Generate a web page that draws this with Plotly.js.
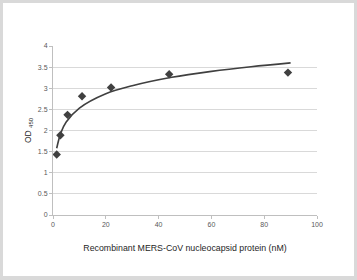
<!DOCTYPE html>
<html><head><meta charset="utf-8">
<script src="https://cdn.plot.ly/plotly-3.0.1.min.js"></script>
<style>
html,body{margin:0;padding:0;background:#fff;}
#wrap{position:relative;width:357px;height:280px;}
#chart{position:absolute;left:0;top:0;width:357px;height:280px;}
#frame{position:absolute;left:0;top:0;width:357px;height:280px;box-sizing:border-box;border:3px solid #d9d9d9;border-bottom-width:4px;pointer-events:none;}
</style></head>
<body><div id="wrap"><div id="chart"></div><div id="frame"></div></div>
<script>
// measured points
const concentration = [1.4, 2.8, 5.5, 11, 22, 44, 89];
const od450 = [1.43, 1.89, 2.37, 2.81, 3.02, 3.33, 3.37];
// trend line
const trendX = [1.4, 3, 5, 10, 20, 30, 45, 60, 75, 90];
const trendY = [1.58, 1.95, 2.20, 2.53, 2.87, 3.06, 3.26, 3.40, 3.51, 3.60];
const xTicks = [0, 20, 40, 60, 80, 100];
const yTicks = [0, 0.5, 1, 1.5, 2, 2.5, 3, 3.5, 4];

const traces = [
  {x: trendX, y: trendY, type: 'scatter', mode: 'lines', line: {color: '#404040', width: 1.6, shape: 'spline'}, hoverinfo: 'skip'},
  {x: concentration, y: od450, type: 'scatter', mode: 'markers', marker: {symbol: 'diamond', size: 6.5, color: '#404040'}}
];
const font = {family: 'Liberation Sans, Arial, sans-serif', size: 8, color: '#404040'};
const layout = {
  width: 357, height: 280,
  margin: {l: 53, r: 40, t: 46, b: 65},
  paper_bgcolor: '#fff', plot_bgcolor: '#fff',
  showlegend: false,
  font: font,
  xaxis: {
    range: [0, 100], tickvals: xTicks, ticktext: xTicks.map(String),
    showgrid: false, zeroline: false, showline: true, linecolor: '#bfbfbf', linewidth: 1,
    ticks: 'outside', ticklen: 3, tickcolor: '#bfbfbf',
    tickfont: {family: font.family, size: 7, color: '#595959'},
    title: {text: 'Recombinant MERS-CoV nucleocapsid protein (nM)', font: {family: font.family, size: 8.8, color: '#262626'}, standoff: 17}
  },
  yaxis: {
    range: [0, 4], tickvals: yTicks, ticktext: yTicks.map(String),
    showgrid: true, gridcolor: '#d9d9d9', gridwidth: 1, zeroline: false,
    showline: true, linecolor: '#bfbfbf', linewidth: 1,
    ticks: 'outside', ticklen: 3, tickcolor: '#bfbfbf',
    tickfont: {family: font.family, size: 7, color: '#595959'},
    title: {text: 'OD <sub>450</sub>', font: {family: font.family, size: 8.5, color: '#262626'}, standoff: 4}
  }
};
Plotly.newPlot('chart', traces, layout, {displayModeBar: false, staticPlot: true});
</script></body></html>
